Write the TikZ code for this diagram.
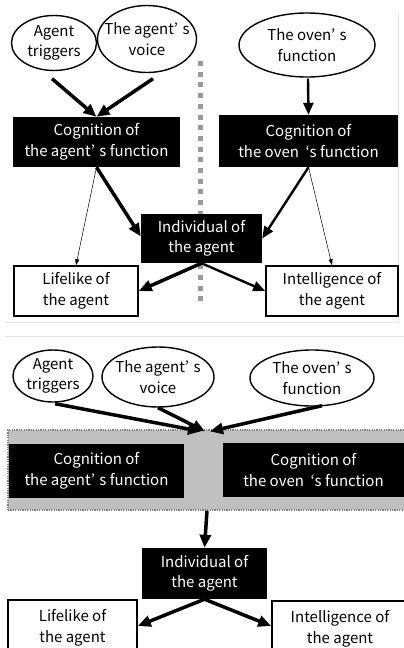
\documentclass[tikz,border=0pt]{standalone}
\usepackage{fontspec}
\setmainfont{Noto Sans CJK JP}
\usetikzlibrary{arrows.meta,shapes.geometric,calc}
\definecolor{boxgray}{HTML}{C0C0C0}
\definecolor{divgray}{HTML}{999999}
\definecolor{framegray}{HTML}{E6E6E6}
\newcommand{\myapos}{’\hspace{0.3em}}
\begin{document}
\begin{tikzpicture}[x=1pt,y=-1pt,
  font=\fontsize{15}{20.5}\selectfont,
  ell/.style={ellipse, draw, line width=1.4pt, fill=white, inner sep=0pt},
  txt/.style={inner sep=0pt, align=center},
  blk/.style={rectangle, fill=black, text=white, inner sep=0pt, align=center},
  wht/.style={rectangle, draw, line width=1.6pt, fill=white, inner sep=0pt, align=center},
  arr/.style={-{Triangle[length=13pt,width=11pt]}, line width=3.5pt},
  marr/.style={-{Triangle[length=12pt,width=10pt]}, line width=2.4pt},
  tarr/.style={-{Triangle[length=6pt,width=4pt]}, line width=0.5pt},
  divider/.style={divgray, line width=5pt, dash pattern=on 5pt off 5.7pt},
  frame/.style={framegray, line width=0.8pt},
  grpbox/.style={rectangle, fill=boxgray, draw=gray, line width=1.2pt, dash pattern=on 1.2pt off 1.2pt, inner sep=0pt}
]
\useasboundingbox (0,0) rectangle (404,648);
% faint frame lines
\coordinate (f1) at (5,322); \coordinate (f2) at (398,322); \coordinate (f3) at (398,12);
\coordinate (f4) at (5,336); \coordinate (f5) at (404,336);
\draw[frame] (f3) -- (f2) -- (f1);
\draw[frame] (f4) -- (f5);
% ---------- top panel ----------
\coordinate (d1) at (200,61); \coordinate (d2) at (200,307);
\draw[divider] (d1) -- (d2);
\node[ell, minimum width=85, minimum height=55] (at1) at (54,43) {};
\node[txt] (at1t) at (at1) {Agent\\triggers};
\node[ell, minimum width=99, minimum height=67] (av1) at (147,39) {};
\node[txt] (av1t) at (av1) {The agent\myapos s\\voice};
\node[ell, minimum width=136, minimum height=64] (of1) at (307,45) {};
\node[txt] (of1t) at (of1) {The oven\myapos s\\function};
\node[blk, minimum width=167, minimum height=50] (ca1) at (96.5,142) {Cognition of\\the agent\myapos s function};
\node[blk, minimum width=179, minimum height=52] (co1) at (308.5,141) {Cognition of\\the oven \ ‘s function};
\node[blk, minimum width=121, minimum height=49] (ind1) at (201.5,238.5) {Individual of\\the agent};
\node[wht, minimum width=124, minimum height=50] (ll1) at (76,291) {Lifelike of\\the agent};
\node[wht, minimum width=132, minimum height=50] (in1) at (332,291) {Intelligence of\\the agent};
\draw[arr] ($(at1.south)+(-2,7.5)$) -- (ca1.north);
\draw[arr] ($(av1.south)+(6,5.5)$) -- (ca1.north);
\draw[marr] ($(of1.south)+(1,1)$) -- (co1.north);
\draw[arr] (ca1.south) -- ($(ind1.west)+(0,-2)$);
\draw[tarr] (ca1.south) -- (ll1.north);
\draw[marr] (co1.south) -- (ind1.east);
\draw[tarr] (co1.south) -- (in1.north);
\draw[arr] (ind1.south) -- (ll1.east);
\draw[marr] (ind1.south) -- (in1.west);
% ---------- bottom panel ----------
\node[grpbox, minimum width=398, minimum height=80] (grp) at (207,470) {};
\node[ell, minimum width=80, minimum height=52] (at2) at (53,376) {};
\node[txt] (at2t) at (at2) {Agent\\triggers};
\node[ell, minimum width=112, minimum height=60] (av2) at (158,377) {};
\node[txt] (av2t) at (av2) {The agent\myapos s\\voice};
\node[ell, minimum width=124, minimum height=56] (of2) at (312,378) {};
\node[txt] (of2t) at (of2) {The oven\myapos s\\function};
\node[blk, minimum width=175, minimum height=54] (ca2) at (96.5,471) {Cognition of\\the agent\myapos s function};
\node[blk, minimum width=181, minimum height=54] (co2) at (313.5,470) {Cognition of\\the oven \ ‘s function};
\node[blk, minimum width=125, minimum height=51] (ind2) at (204.5,573.5) {Individual of\\the agent};
\node[wht, minimum width=129, minimum height=56] (ll2) at (72.5,628) {Lifelike of\\the agent};
\node[wht, minimum width=136, minimum height=56] (in2) at (340,629) {Intelligence of\\the agent};
\draw[arr] ($(at2.south)+(2,1)$) -- ($(grp.north)+(-6,2)$);
\draw[arr] (av2.south) -- ($(grp.north)+(-2,2)$);
\draw[arr] ($(of2.south)+(10,-1)$) -- ($(grp.north)+(3,2)$);
\draw[arr] (grp.south) -- (ind2.north);
\draw[arr] (ind2.south) -- ($(ll2.east)+(0,-2)$);
\draw[arr] (ind2.south) -- ($(in2.west)+(0,-3)$);
\end{tikzpicture}
\end{document}
